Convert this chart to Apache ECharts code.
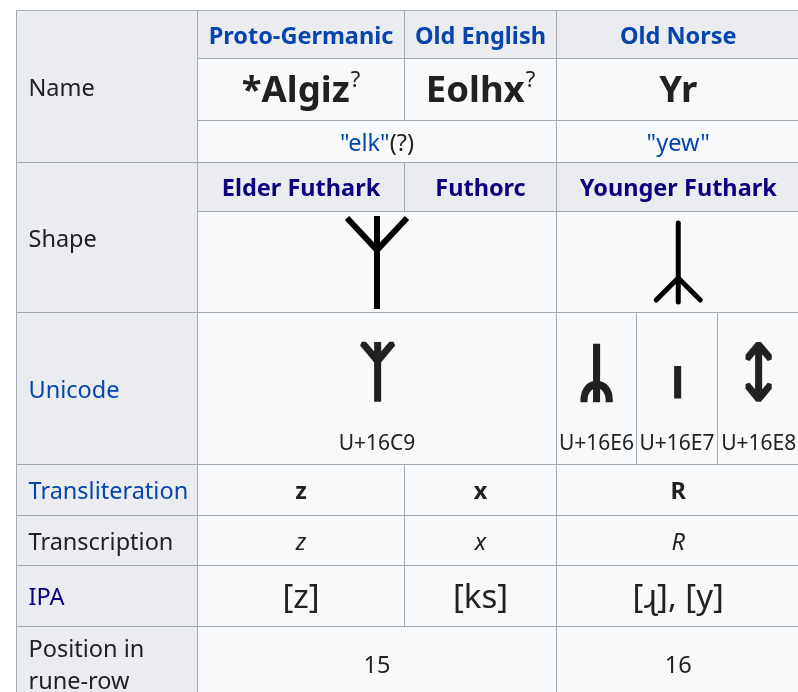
<!DOCTYPE html>
<html>
<head>
<meta charset="utf-8">
<script src="https://cdn.jsdelivr.net/npm/echarts@6/dist/echarts.min.js"></script>
<style>html,body{margin:0;padding:0;background:#fff}#c{width:798px;height:692px}</style>
</head>
<body>
<div id="c"></div>
<script>
// ---- data ----
const rowLabels = ['Name', 'Shape', 'Unicode', 'Transliteration', 'Transcription', 'IPA', 'Position in\nrune-row'];
const languages = ['Proto-Germanic', 'Old English', 'Old Norse'];
const runeNames = ['*Algiz', 'Eolhx', 'Yr'];
const nameQuery = ['?', '?', ''];
const meanings = ['"elk"', '"yew"'];
const meaningNotes = ['(?)', ''];
const scripts = ['Elder Futhark', 'Futhorc', 'Younger Futhark'];
const unicodeChars = ['\u16C9', '\u16E6', '\u16E7', '\u16E8'];
const unicodeCodes = ['U+16C9', 'U+16E6', 'U+16E7', 'U+16E8'];
const transliteration = ['z', 'x', 'R'];
const transcription = ['z', 'x', 'R'];
const ipa = ['[z]', '[ks]', '[\u027B], [y]'];
const positions = ['15', '16'];

// ---- layout (pixels) ----
const colEdges = [16.5, 197.5, 404.5, 556.5, 636.5, 717.5, 800];
const rowEdges = [10.5, 58.5, 120.5, 162.5, 211.5, 312.5, 464.5, 515.5, 565.5, 626.5, 702];
const FONT = '"Noto Sans", "DejaVu Sans", sans-serif';
const C_TEXT = '#202122', C_LINK = '#0645ad', C_VISIT = '#0b0080';
const BG_TH = '#eaecf0', BG_TD = '#f8f9fa', BORDER = '#a2a9b1';
const FS = 23.5;
const TEXT_DY = 2.5;
const labelColors = [C_TEXT, C_TEXT, C_LINK, C_LINK, C_TEXT, C_VISIT, C_TEXT];
const labelRows = [[0, 3], [3, 5], [5, 6], [6, 7], [7, 8], [8, 9], [9, 10]];
const langCols = [[1, 2], [2, 3], [3, 6]];
const wideCols = [[1, 3], [3, 6]];
const uniCols = [[1, 3], [3, 4], [4, 5], [5, 6]];

// rune stroke drawings for the Shape row (relative to cell centre)
const shapeStrokes = [
  { w: 6, cap: 'butt', lines: [[[0, -46], [0, 47]], [[-30, -44], [0, -12], [30, -44]]] },
  { w: 5, cap: 'round', lines: [[[0, -39], [0, 40]], [[-22, 38], [0, 16], [22, 38]]] }
];

const cells = [];
function T(text, size, color, opt) { return Object.assign({ text, size, color, weight: 'normal', style: 'normal', dy: 0 }, opt || {}); }

rowLabels.forEach((lab, i) => {
  cells.push({ c: [0, 1], r: labelRows[i], bg: BG_TH, align: 'left', texts: [T(lab, FS, labelColors[i], { lh: 32 })] });
});
languages.forEach((l, i) => cells.push({ c: langCols[i], r: [0, 1], bg: BG_TH, texts: [T(l, FS, C_LINK, { weight: 'bold' })] }));
runeNames.forEach((n, i) => cells.push({ c: langCols[i], r: [1, 2], bg: BG_TD, rich: 'name', texts: [T(n, 36.5, C_TEXT, { weight: 'bold', sup: nameQuery[i] })] }));
meanings.forEach((m, i) => cells.push({ c: wideCols[i], r: [2, 3], bg: BG_TD, rich: 'meaning', texts: [T(m, FS, C_LINK, { note: meaningNotes[i] })] }));
scripts.forEach((s, i) => cells.push({ c: langCols[i], r: [3, 4], bg: BG_TH, texts: [T(s, FS, C_VISIT, { weight: 'bold' })] }));
wideCols.forEach((wc, i) => cells.push({ c: wc, r: [4, 5], bg: BG_TD, texts: [], shape: shapeStrokes[i] }));
unicodeChars.forEach((u, i) => cells.push({ c: uniCols[i], r: [5, 6], bg: BG_TD, texts: [
  T(u, 62, C_TEXT, { abs: 373 - 388.5, heavy: 4.5 }), T(unicodeCodes[i], 21, C_TEXT, { abs: 442 - 388.5 })] }));
transliteration.forEach((t, i) => cells.push({ c: langCols[i], r: [6, 7], bg: BG_TD, texts: [T(t, FS, C_TEXT, { weight: 'bold' })] }));
transcription.forEach((t, i) => cells.push({ c: langCols[i], r: [7, 8], bg: BG_TD, texts: [T(t, FS, C_TEXT, { style: 'italic' })] }));
ipa.forEach((t, i) => cells.push({ c: langCols[i], r: [8, 9], bg: BG_TD, texts: [T(t, 33, C_TEXT)] }));
positions.forEach((p, i) => cells.push({ c: wideCols[i], r: [9, 10], bg: BG_TD, texts: [T(p, FS, C_TEXT)] }));

function fontStr(t) { return t.style + ' ' + t.weight + ' ' + t.size + 'px ' + FONT; }

function renderItem(params, api) {
  const cell = cells[api.value(0)];
  const p0 = api.coord([colEdges[cell.c[0]], rowEdges[cell.r[0]]]);
  const p1 = api.coord([colEdges[cell.c[1]], rowEdges[cell.r[1]]]);
  const x = p0[0], y = p0[1], w = p1[0] - p0[0], h = p1[1] - p0[1];
  const cx = x + w / 2, cy = y + h / 2;
  const children = [{ type: 'rect', shape: { x, y, width: w, height: h }, style: { fill: cell.bg, stroke: BORDER, lineWidth: 1 } }];
  cell.texts.forEach(t => {
    const tx = cell.align === 'left' ? x + 12 : cx;
    const ty = cy + TEXT_DY + (t.abs || 0);
    const style = { x: tx, y: ty, fill: t.color, align: cell.align === 'left' ? 'left' : 'center', verticalAlign: 'middle' };
    if (cell.rich === 'name') {
      style.text = '{n|' + t.text + '}' + (t.sup ? '{s|' + t.sup + '}' : '');
      style.rich = {
        n: { font: fontStr(t), fill: t.color, lineHeight: 44, verticalAlign: 'middle' },
        s: { font: 'normal normal 22px ' + FONT, fill: C_TEXT, lineHeight: 28, verticalAlign: 'top', padding: [0, 0, 0, 1] }
      };
    } else if (cell.rich === 'meaning') {
      style.text = '{m|' + t.text + '}' + (t.note ? '{q|' + t.note + '}' : '');
      style.rich = {
        m: { font: fontStr(t), fill: C_LINK },
        q: { font: fontStr(t), fill: C_TEXT }
      };
    } else {
      style.text = t.text;
      style.font = fontStr(t);
      if (t.lh) style.lineHeight = t.lh;
      if (t.heavy) { style.stroke = t.color; style.lineWidth = t.heavy; style.lineJoin = 'round'; }
    }
    children.push({ type: 'text', style });
  });
  if (cell.shape) {
    cell.shape.lines.forEach(pts => {
      children.push({ type: 'polyline', shape: { points: pts.map(p => [cx + p[0], cy + p[1]]) },
        style: { stroke: '#000', lineWidth: cell.shape.w, lineCap: cell.shape.cap, lineJoin: 'miter', fill: null } });
    });
  }
  return { type: 'group', children };
}

const chart = echarts.init(document.getElementById('c'), null, { renderer: 'canvas' });
chart.setOption({
  animation: false,
  grid: { left: 0, right: 0, top: 0, bottom: 0 },
  xAxis: { type: 'value', min: 0, max: 798, show: false },
  yAxis: { type: 'value', min: 0, max: 692, inverse: true, show: false },
  series: [{ type: 'custom', clip: false, renderItem, data: cells.map((c, i) => [i]) }]
});
</script>
</body>
</html>
